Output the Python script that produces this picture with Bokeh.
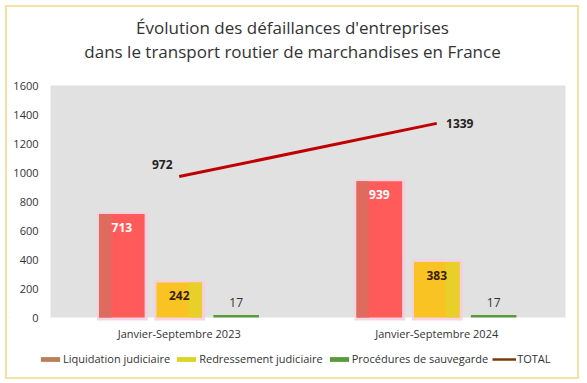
from bokeh.plotting import figure
from bokeh.models import Range1d, Legend, LegendItem
from bokeh.embed import file_html
from bokeh.resources import INLINE
from bokeh.core.properties import value

title_line1 = "Évolution des défaillances d'entreprises"
title_line2 = "dans le transport routier de marchandises en France"
periods = ["Janvier-Septembre 2023", "Janvier-Septembre 2024"]
series_names = ["Liquidation judiciaire", "Redressement judiciaire", "Procédures de sauvegarde", "TOTAL"]
liquidation = [713, 939]
redressement = [242, 383]
sauvegarde = [17, 17]
total = [972, 1339]
y_ticks = [0, 200, 400, 600, 800, 1000, 1200, 1400, 1600]

FONT = "Open Sans"
TXT = "#333333"

# canvas / plot-area geometry (pixels)
W, H = 568, 368
PL, PR, PT, PB = 42, 557, 77, 309
XMAX, YMAX = 2.0, float(y_ticks[-1])
sx = (PR - PL) / XMAX
sy = (PB - PT) / YMAX

centers = [0.5, 1.5]
offs = [-0.223, 0.0, 0.221]
bw = 0.177

p = figure(width=W, height=H,
           x_range=Range1d(-PL / sx, (W - PL) / sx),
           y_range=Range1d(-(H - PB) / sy, YMAX + PT / sy),
           x_axis_location=None, y_axis_location=None,
           output_backend="svg", toolbar_location=None,
           min_border=0)
p.styles = {"margin": "8px", "outline": "2px solid #F4E1A6", "outline-offset": "1px"}
p.background_fill_color = "white"
p.border_fill_color = "white"
p.outline_line_color = None
p.grid.visible = False

# plot area background
p.quad(left=[0], right=[XMAX], bottom=[0], top=[YMAX], fill_color="#E1E1E1", line_color=None)

# titles
p.text(x=[XMAX / 2, XMAX / 2], y=[YMAX, YMAX], text=[title_line1, title_line2],
       text_font=value(FONT), text_font_size="17px", text_color=TXT,
       text_align="center", text_baseline="middle", x_offset=-15.5, y_offset=[-58, -34])

# y tick labels
p.text(x=[0] * len(y_ticks), y=y_ticks, text=[str(t) for t in y_ticks],
       text_font=value(FONT), text_font_size="11px", text_color=TXT,
       text_align="right", text_baseline="middle", x_offset=-12)

# category labels
p.text(x=centers, y=[0, 0], text=periods, text_font=value(FONT), text_font_size="11px",
       text_color=TXT, text_align="center", text_baseline="middle", y_offset=16)

def xs(k):
    return [c + offs[k] for c in centers]

# halos
for k, vals in enumerate([liquidation, redressement]):
    x = xs(k)
    p.quad(left=[v - bw / 2 - 0.008 for v in x], right=[v + bw / 2 + 0.012 for v in x],
           bottom=[-20, -20], top=[v + 15 for v in vals], fill_color="#F8CCDD", line_color=None,
           fill_alpha=0.85)

# liquidation bars
xl = xs(0)
p.vbar(x=xl, width=bw, top=liquidation, bottom=0, fill_color="#FF5B5B", line_color=None)
p.quad(left=[v - bw / 2 for v in xl], right=[v - bw / 2 + bw * 0.27 for v in xl],
       bottom=[0, 0], top=liquidation, fill_color="#DE6B5E", line_color=None)
# redressement bars
xr = xs(1)
p.vbar(x=xr, width=bw, top=redressement, bottom=0, fill_color="#F9C423", line_color=None)
p.quad(left=[v + bw * 0.2 for v in xr], right=[v + bw / 2 for v in xr],
       bottom=[0, 0], top=redressement, fill_color="#E8CF2A", line_color=None)
# sauvegarde bars
xsv = xs(2)
p.vbar(x=xsv, width=bw, top=sauvegarde, bottom=0, fill_color="#5B9A3A", line_color=None)

# total line
p.line(x=centers, y=total, line_color="#C00000", line_width=3)

# value labels
p.text(x=xl, y=liquidation, text=[str(v) for v in liquidation], text_font=value(FONT),
       text_font_size="12px", text_font_style="bold", text_color="white",
       text_align="center", text_baseline="middle", y_offset=13.5)
p.text(x=xr, y=redressement, text=[str(v) for v in redressement], text_font=value(FONT),
       text_font_size="12px", text_font_style="bold", text_color="#3A1D06",
       text_align="center", text_baseline="middle", y_offset=13.5)
p.text(x=xsv, y=sauvegarde, text=[str(v) for v in sauvegarde], text_font=value(FONT),
       text_font_size="12px", text_color=TXT,
       text_align="center", text_baseline="middle", y_offset=-12.5)
p.text(x=[centers[0]], y=[total[0]], text=[str(total[0])], text_font=value(FONT),
       text_font_size="12px", text_font_style="bold", text_color="#222222",
       text_align="center", text_baseline="middle", x_offset=-17, y_offset=-12)
p.text(x=[centers[1]], y=[total[1]], text=[str(total[1])], text_font=value(FONT),
       text_font_size="12px", text_font_style="bold", text_color="#222222",
       text_align="center", text_baseline="middle", x_offset=23, y_offset=0)

# legend swatch renderers (kept outside the visible range)
r1 = p.vbar(x=[-10], top=[1], width=0.1, fill_color="#B97F5C", line_color=None)
r2 = p.vbar(x=[-10], top=[1], width=0.1, fill_color="#DCD527", line_color=None)
r3 = p.vbar(x=[-10], top=[1], width=0.1, fill_color="#5A9A3A", line_color=None)
r4 = p.line(x=[-10, -11], y=[1, 1], line_color="#7A3A0E", line_width=2.5)
legend = Legend(items=[LegendItem(label=series_names[0], renderers=[r1]),
                       LegendItem(label=series_names[1], renderers=[r2]),
                       LegendItem(label=series_names[2], renderers=[r3]),
                       LegendItem(label=series_names[3], renderers=[r4])],
                orientation="horizontal", location=(30, 10),
                label_text_font=FONT, label_text_font_size="11px", label_text_color=TXT,
                glyph_width=24, glyph_height=6, label_standoff=1, spacing=4,
                padding=0, margin=0, border_line_color=None, background_fill_alpha=0)
p.add_layout(legend)

open("out.html", "w").write(file_html(p, INLINE))
